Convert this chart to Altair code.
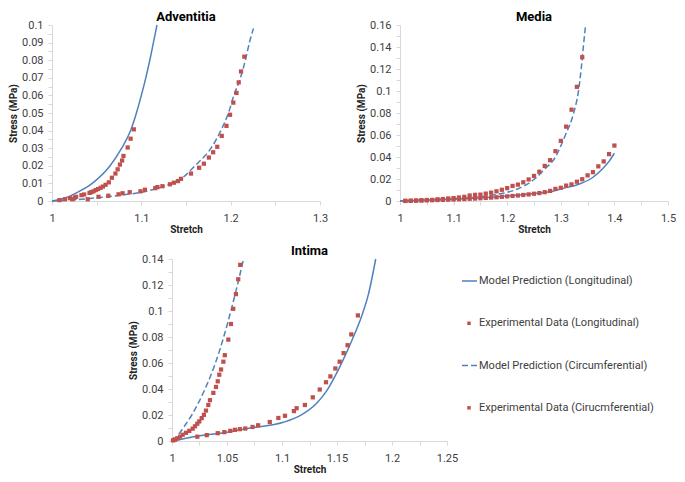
import altair as alt
import pandas as pd

# ---------------- data ----------------
# Adventitia
adv_long_model_x = [1.0, 1.01, 1.02, 1.03, 1.045, 1.065, 1.078, 1.088, 1.0945, 1.1, 1.105, 1.1095, 1.1135, 1.1175]
adv_long_model_y = [0.0, 0.001, 0.0028, 0.0053, 0.01, 0.02, 0.03, 0.04, 0.05, 0.06, 0.07, 0.08, 0.09, 0.1]
adv_long_data_x = [1.0084, 1.0145, 1.02, 1.023, 1.0255, 1.027, 1.033, 1.036, 1.042, 1.044, 1.0465, 1.049, 1.0516,
                   1.0545, 1.057, 1.06, 1.0636, 1.067, 1.071, 1.0735, 1.076, 1.0785, 1.08, 1.0847, 1.088, 1.0916]
adv_long_data_y = [0.0005, 0.001, 0.0016, 0.001, 0.002, 0.0024, 0.0033, 0.0037, 0.0046, 0.005, 0.0055, 0.0062, 0.0068,
                   0.0075, 0.0082, 0.0092, 0.0106, 0.0132, 0.0156, 0.018, 0.0207, 0.023, 0.0256, 0.0304, 0.0354, 0.0407]
adv_circ_model_x = [1.0, 1.02, 1.05, 1.075, 1.1, 1.12, 1.1345, 1.148, 1.16, 1.17, 1.178, 1.189, 1.1975, 1.2036, 1.211, 1.2164, 1.221, 1.2255]
adv_circ_model_y = [0.0, 0.0005, 0.0018, 0.0032, 0.005, 0.0075, 0.01, 0.014, 0.02, 0.025, 0.03, 0.04, 0.05, 0.06, 0.07, 0.08, 0.09, 0.098]
adv_circ_data_x = [1.04, 1.052, 1.063, 1.0745, 1.079, 1.087, 1.099, 1.104, 1.1156, 1.118, 1.1236, 1.132, 1.1364, 1.141,
                   1.1444, 1.1556, 1.1647, 1.17, 1.1756, 1.1804, 1.185, 1.19, 1.1953, 1.1993, 1.203, 1.2065, 1.209, 1.2116, 1.2153]
adv_circ_data_y = [0.001, 0.0024, 0.003, 0.0038, 0.0044, 0.005, 0.0055, 0.0064, 0.0073, 0.0079, 0.0084, 0.0095, 0.0104, 0.0113,
                   0.0126, 0.0156, 0.0189, 0.0212, 0.0247, 0.0277, 0.0308, 0.037, 0.0427, 0.049, 0.0559, 0.0614, 0.0674, 0.0736, 0.082]

# Media
med_long_model_x = [1.0, 1.1, 1.2, 1.25, 1.287, 1.3006, 1.336, 1.36, 1.378, 1.39, 1.4]
med_long_model_y = [0.0, 0.0015, 0.0045, 0.0068, 0.009, 0.011, 0.0157, 0.0216, 0.0294, 0.036, 0.0434]
med_long_data_x = [1.01, 1.02, 1.03, 1.04, 1.05, 1.06, 1.07, 1.08, 1.09, 1.10, 1.11, 1.12, 1.13, 1.14, 1.15, 1.16, 1.17, 1.18, 1.19, 1.20,
                   1.21, 1.22, 1.23, 1.24, 1.25, 1.26, 1.27, 1.28, 1.29, 1.30, 1.31, 1.32, 1.33, 1.34, 1.35, 1.36, 1.37, 1.38, 1.39, 1.40]
med_long_data_y = [0.0002, 0.0003, 0.0004, 0.0005, 0.0006, 0.0007, 0.0009, 0.001, 0.0012, 0.0014, 0.0016, 0.0018, 0.002, 0.0022,
                   0.0025, 0.0028, 0.0031, 0.0034, 0.0038, 0.0042, 0.0046, 0.005, 0.0055, 0.006, 0.0066, 0.0072, 0.008, 0.0092,
                   0.011, 0.012, 0.014, 0.0151, 0.0175, 0.0198, 0.0233, 0.0262, 0.0315, 0.036, 0.0426, 0.0504]
med_circ_model_x = [1.0, 1.05, 1.1, 1.15, 1.18, 1.2145, 1.251, 1.27, 1.29, 1.3, 1.3086, 1.324, 1.333, 1.338, 1.342, 1.3463]
med_circ_model_y = [0.0, 0.001, 0.002, 0.0038, 0.006, 0.01, 0.02, 0.029, 0.04, 0.05, 0.06, 0.08, 0.1, 0.12, 0.14, 0.16]
med_circ_data_x = [1.01, 1.02, 1.03, 1.04, 1.05, 1.06, 1.07, 1.08, 1.09, 1.10, 1.11, 1.12, 1.13, 1.14, 1.15, 1.16, 1.17,
                   1.18, 1.19, 1.20, 1.21, 1.22, 1.23, 1.24, 1.25, 1.26, 1.27, 1.28, 1.29, 1.30, 1.31, 1.32, 1.33, 1.34]
med_circ_data_y = [0.0, 0.0001, 0.0003, 0.0006, 0.0009, 0.001, 0.0015, 0.0018, 0.0023, 0.0026, 0.0032, 0.0038, 0.005, 0.0056,
                   0.0058, 0.0067, 0.0076, 0.0088, 0.0102, 0.0117, 0.0137, 0.0149, 0.017, 0.0196, 0.0228, 0.0266, 0.0319,
                   0.0371, 0.0453, 0.0547, 0.0676, 0.083, 0.1038, 0.1307]

# Intima
int_long_model_x = [1.0, 1.02, 1.05, 1.0709, 1.1012, 1.1164, 1.1315, 1.1406, 1.148, 1.1545, 1.1636, 1.1726, 1.1786, 1.1852]
int_long_model_y = [0.0, 0.0033, 0.0068, 0.01, 0.0144, 0.0195, 0.029, 0.0385, 0.0495, 0.0605, 0.0775, 0.0966, 0.113, 0.14]
int_long_data_x = [1.0024, 1.023, 1.0316, 1.0416, 1.0476, 1.053, 1.0572, 1.0617, 1.0666, 1.0732, 1.0783, 1.0889, 1.0967, 1.1027,
                   1.1108, 1.1133, 1.1208, 1.128, 1.1343, 1.14, 1.144, 1.1485, 1.1524, 1.156, 1.1596, 1.163, 1.169]
int_long_data_y = [0.0008, 0.0033, 0.0045, 0.006, 0.0068, 0.0078, 0.0086, 0.0091, 0.0096, 0.0108, 0.0121, 0.0146, 0.0177, 0.0194,
                   0.023, 0.0252, 0.0277, 0.0336, 0.0396, 0.0452, 0.0497, 0.0558, 0.061, 0.0676, 0.0737, 0.082, 0.0966]
int_circ_model_x = [1.001, 1.006, 1.011, 1.018, 1.030, 1.0395, 1.047, 1.0535, 1.0595, 1.065]
int_circ_model_y = [0.0, 0.005, 0.011, 0.02, 0.04, 0.06, 0.08, 0.1, 0.12, 0.14]
int_circ_data_x = [1.0009, 1.0027, 1.0048, 1.0073, 1.0097, 1.0127, 1.0157, 1.0188, 1.0209, 1.023, 1.0248, 1.027, 1.029, 1.0309,
                   1.033, 1.0345, 1.0376, 1.04, 1.0416, 1.043, 1.0446, 1.0467, 1.048, 1.0512, 1.0536, 1.0557, 1.0581, 1.0602, 1.062]
int_circ_data_y = [0.0005, 0.0012, 0.002, 0.0033, 0.0048, 0.0063, 0.0078, 0.0095, 0.0113, 0.0133, 0.0151, 0.0176, 0.0201, 0.0234,
                   0.0277, 0.0314, 0.037, 0.0416, 0.0459, 0.051, 0.055, 0.061, 0.066, 0.078, 0.09, 0.1017, 0.113, 0.1244, 0.1355]

legend_labels = ["Model Prediction (Longitudinal)", "Experimental Data (Longitudinal)",
                 "Model Prediction (Circumferential)", "Experimental Data (Cirucmferential)"]

# ---------------- style ----------------
FONT = "Roboto"
BLUE = "#4F81BD"
RED = "#C0504D"
GREY_AXIS = "#D9D9D9"
LABEL = "#404040"


def make_df(xs, ys):
    return pd.DataFrame({"x": xs, "y": ys, "i": list(range(len(xs)))})


def ticks(lo, hi, step):
    n = int(round((hi - lo) / step))
    return [round(lo + k * step, 6) for k in range(n + 1)]


def label_expr(step):
    m = int(round(1 / step))
    return (f"abs(datum.value*{m} - round(datum.value*{m})) < 0.001 ? "
            f"format(datum.value, '~g') : ''")


axis_style = dict(grid=False, domainColor=GREY_AXIS, tickColor=GREY_AXIS, tickSize=4,
                  labelFont=FONT, labelFontSize=11, labelColor=LABEL, labelOverlap=False,
                  labelFlush=False, titleFont=FONT, titleFontSize=10, titleFontWeight="bold",
                  titleColor="#222222")


def panel(title, xdom, xminor, xmajor, ydom, yminor, ymajor, lm, ld, cm, cd, w, h):
    xs = alt.Scale(domain=xdom, nice=False, zero=False)
    ys = alt.Scale(domain=ydom, nice=False, zero=False)
    xaxis = alt.Axis(values=ticks(xdom[0], xdom[1], xminor), labelExpr=label_expr(xmajor),
                     title="Stretch", labelPadding=7, titlePadding=1, **axis_style)
    yaxis = alt.Axis(values=ticks(ydom[0], ydom[1], yminor), labelExpr=label_expr(ymajor),
                     title="Stress (MPa)", labelPadding=5, titlePadding=3, **axis_style)
    X = alt.X("x:Q", scale=xs, axis=xaxis)
    Y = alt.Y("y:Q", scale=ys, axis=yaxis)
    l1 = alt.Chart(make_df(*lm)).mark_line(color=BLUE, strokeWidth=1.5, interpolate="monotone").encode(
        x=X, y=Y, order="i:Q")
    l2 = alt.Chart(make_df(*cm)).mark_line(color=BLUE, strokeWidth=1.5, strokeDash=[6, 3],
                                           interpolate="monotone").encode(x=X, y=Y, order="i:Q")
    p1 = alt.Chart(make_df(*ld)).mark_square(size=18, color=RED, opacity=1).encode(x=X, y=Y)
    p2 = alt.Chart(make_df(*cd)).mark_square(size=18, color=RED, opacity=1).encode(x=X, y=Y)
    return alt.layer(l1, l2, p1, p2).properties(
        width=w, height=h,
        title=alt.TitleParams(title, font=FONT, fontSize=13, fontWeight="bold", color="black",
                              anchor="middle", offset=-5))


adv = panel("Adventitia", [1.0, 1.3], 0.05, 0.1, [0.0, 0.1], 0.005, 0.01,
            (adv_long_model_x, adv_long_model_y), (adv_long_data_x, adv_long_data_y),
            (adv_circ_model_x, adv_circ_model_y), (adv_circ_data_x, adv_circ_data_y), 268, 176)
med = panel("Media", [1.0, 1.5], 0.05, 0.1, [0.0, 0.16], 0.01, 0.02,
            (med_long_model_x, med_long_model_y), (med_long_data_x, med_long_data_y),
            (med_circ_model_x, med_circ_model_y), (med_circ_data_x, med_circ_data_y), 268, 176)
inti = panel("Intima", [1.0, 1.25], 0.025, 0.05, [0.0, 0.14], 0.01, 0.02,
             (int_long_model_x, int_long_model_y), (int_long_data_x, int_long_data_y),
             (int_circ_model_x, int_circ_model_y), (int_circ_data_x, int_circ_data_y), 275, 182)

spacer = alt.Chart(pd.DataFrame({"a": [0]})).mark_point(opacity=0).encode(
    x=alt.value(0), y=alt.value(0)).properties(width=76, height=10)

# manual legend
leg_df = pd.DataFrame({"idx": [0, 1, 2, 3], "label": legend_labels})
ly = alt.Y("idx:Q", scale=alt.Scale(domain=[4.21, -0.52], nice=False, zero=False), axis=None)
leg_rule_solid = alt.Chart(leg_df).transform_filter("datum.idx == 0").mark_rule(
    color=BLUE, strokeWidth=1.5).encode(x=alt.value(4), x2=alt.value(19), y=ly)
leg_rule_dash = alt.Chart(leg_df).transform_filter("datum.idx == 2").mark_rule(
    color=BLUE, strokeWidth=1.5, strokeDash=[6, 3]).encode(x=alt.value(4), x2=alt.value(19), y=ly)
leg_pts = alt.Chart(leg_df).transform_filter("datum.idx == 1 || datum.idx == 3").mark_square(
    size=12, color=RED, opacity=1).encode(x=alt.value(11), y=ly)
leg_txt = alt.Chart(leg_df).mark_text(align="left", baseline="middle", font=FONT, fontSize=11,
                                      color=LABEL).encode(x=alt.value(21), y=ly, text="label:N")
legend = alt.layer(leg_rule_solid, leg_rule_dash, leg_pts, leg_txt).properties(width=200, height=200)

top = alt.hconcat(adv, med, spacing=28)
bottom = alt.hconcat(spacer, inti, legend, spacing=0)
chart = alt.vconcat(top, bottom, spacing=11).properties(
    padding={"left": 0, "top": 3, "right": 0, "bottom": 0}, background="white"
).configure_view(stroke=None)

chart.save("out.html", embed_options={"renderer": "svg", "actions": False})
